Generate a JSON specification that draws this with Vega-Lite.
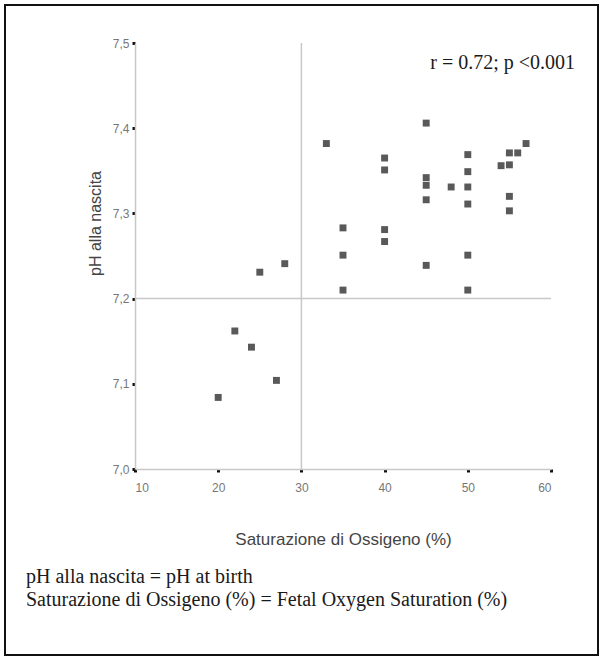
{
  "$schema": "https://vega.github.io/schema/vega-lite/v6.json",
  "width": 593,
  "height": 650,
  "autosize": {"type": "none"},
  "padding": {"left": 5, "top": 5, "right": 5, "bottom": 4},
  "background": "white",
  "config": {
    "view": {"stroke": "#111", "strokeWidth": 2},
    "axis": {"grid": false}
  },
  "title": {
    "text": ["pH alla nascita = pH at birth", "Saturazione di Ossigeno (%) = Fetal Oxygen Saturation (%)"],
    "orient": "bottom",
    "anchor": "start",
    "frame": "group",
    "font": "Liberation Serif",
    "fontSize": 20,
    "fontWeight": "normal",
    "color": "#1a1a1a",
    "lineHeight": 23,
    "dx": 21,
    "dy": -92
  },
  "datasets": {
    "points": [
      {"sat": 20, "ph": 7.084}, {"sat": 22, "ph": 7.162}, {"sat": 24, "ph": 7.143},
      {"sat": 25, "ph": 7.231}, {"sat": 27, "ph": 7.104}, {"sat": 28, "ph": 7.241},
      {"sat": 33, "ph": 7.382}, {"sat": 35, "ph": 7.283}, {"sat": 35, "ph": 7.251},
      {"sat": 35, "ph": 7.21}, {"sat": 40, "ph": 7.365}, {"sat": 40, "ph": 7.351},
      {"sat": 40, "ph": 7.281}, {"sat": 40, "ph": 7.267}, {"sat": 45, "ph": 7.406},
      {"sat": 45, "ph": 7.342}, {"sat": 45, "ph": 7.333}, {"sat": 45, "ph": 7.316},
      {"sat": 45, "ph": 7.239}, {"sat": 48, "ph": 7.331}, {"sat": 50, "ph": 7.369},
      {"sat": 50, "ph": 7.349}, {"sat": 50, "ph": 7.331}, {"sat": 50, "ph": 7.311},
      {"sat": 50, "ph": 7.251}, {"sat": 50, "ph": 7.21}, {"sat": 54, "ph": 7.356},
      {"sat": 55, "ph": 7.357}, {"sat": 55, "ph": 7.371}, {"sat": 56, "ph": 7.371},
      {"sat": 57, "ph": 7.382}, {"sat": 55, "ph": 7.32}, {"sat": 55, "ph": 7.303}
    ],
    "annot": [{"sat": 62.9, "ph": 7.477, "label": "r = 0.72; p <0.001"}],
    "refx": [{"sat": 30, "ph0": 7.0, "ph1": 7.5}],
    "refy": [{"ph": 7.2, "sat0": 10, "sat1": 60}]
  },
  "layer": [
    {
      "data": {"name": "refx"},
      "mark": {"type": "rule", "color": "#c8c8c8", "strokeWidth": 1.5},
      "encoding": {
        "x": {"field": "sat", "type": "quantitative"},
        "y": {"field": "ph0", "type": "quantitative"},
        "y2": {"field": "ph1"}
      }
    },
    {
      "data": {"name": "refy"},
      "mark": {"type": "rule", "color": "#c8c8c8", "strokeWidth": 1.5},
      "encoding": {
        "y": {"field": "ph", "type": "quantitative"},
        "x": {"field": "sat0", "type": "quantitative"},
        "x2": {"field": "sat1"}
      }
    },
    {
      "data": {"name": "points"},
      "mark": {"type": "square", "filled": true, "color": "#595959", "opacity": 1, "size": 48},
      "encoding": {
        "x": {
          "field": "sat", "type": "quantitative",
          "scale": {"domain": [10, 60], "range": [130, 546], "nice": false, "zero": false},
          "axis": {
            "orient": "bottom", "offset": -186,
            "values": [10, 20, 30, 40, 50, 60],
            "domainColor": "#c8c8c8", "domainWidth": 1.5,
            "tickColor": "#111", "tickSize": 3, "tickWidth": 3,
            "labelColor": "#777", "labelFont": "Liberation Sans", "labelFontSize": 12, "labelPadding": 10,
            "title": "Saturazione di Ossigeno (%)",
            "titleFont": "Liberation Sans", "titleFontSize": 17, "titleFontWeight": "normal",
            "titleColor": "#444", "titlePadding": 38
          }
        },
        "y": {
          "field": "ph", "type": "quantitative",
          "scale": {"domain": [7.0, 7.5], "range": [464, 38], "nice": false, "zero": false},
          "axis": {
            "orient": "left", "offset": -130,
            "values": [7.0, 7.1, 7.2, 7.3, 7.4, 7.5],
            "labelExpr": "replace(format(datum.value, '.1f'), '.', ',')",
            "domainColor": "#c8c8c8", "domainWidth": 1.5,
            "tickColor": "#111", "tickSize": 3, "tickWidth": 3,
            "labelColor": "#777", "labelFont": "Liberation Sans", "labelFontSize": 12, "labelPadding": 3,
            "title": "pH alla nascita",
            "titleFont": "Liberation Sans", "titleFontSize": 16, "titleFontWeight": "normal",
            "titleColor": "#444", "titlePadding": 9, "titleY": 218
          }
        }
      }
    },
    {
      "data": {"name": "annot"},
      "mark": {"type": "text", "align": "right", "baseline": "middle", "font": "Liberation Serif", "fontSize": 20, "color": "#1a1a1a"},
      "encoding": {
        "x": {"field": "sat", "type": "quantitative"},
        "y": {"field": "ph", "type": "quantitative"},
        "text": {"field": "label"}
      }
    }
  ]
}
